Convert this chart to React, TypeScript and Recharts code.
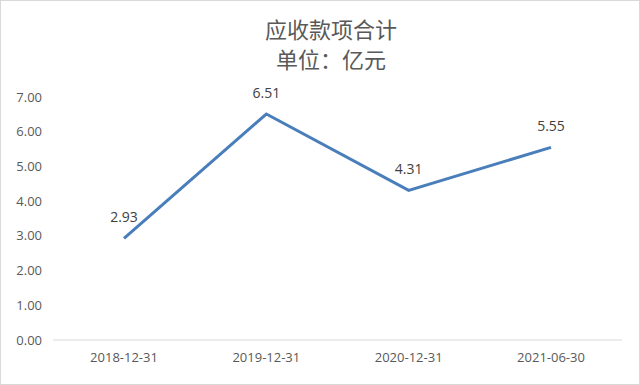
import React from 'react';
import { LineChart, Line, XAxis, YAxis, LabelList } from 'recharts';

// 期末日期
const periods = ['2018-12-31', '2019-12-31', '2020-12-31', '2021-06-30'];
// 应收款项合计（亿元）
const receivables = [2.93, 6.51, 4.31, 5.55];
// 纵轴刻度
const yTicks = [0, 1, 2, 3, 4, 5, 6, 7];

const data = periods.map((p, i) => ({ period: p, value: receivables[i] }));

const tickFont = { fontFamily: 'Open Sans, sans-serif', fontSize: 13, fill: '#595959' };

export default function App() {
  return (
    <div
      style={{
        position: 'fixed',
        left: 0,
        top: 0,
        width: 640,
        height: 385,
        boxSizing: 'border-box',
        border: '1px solid #d9d9d9',
        background: '#fff',
      }}
    >
      <div
        style={{
          position: 'absolute',
          left: 0,
          top: 12,
          width: 660,
          textAlign: 'center',
          fontFamily: '"Noto Sans CJK SC", sans-serif',
          fontSize: 22,
          lineHeight: '30px',
          color: '#595959',
        }}
      >
        <div>应收款项合计</div>
        <div>单位：亿元</div>
      </div>
      <LineChart
        width={638}
        height={383}
        data={data}
        margin={{ top: 96, right: 17, left: 0, bottom: 14 }}
      >
        <XAxis
          dataKey="period"
          tickLine={false}
          axisLine={{ stroke: '#d9d9d9' }}
          tick={tickFont}
          tickMargin={7}
          height={30}
          padding={{ left: 71, right: 71 }}
          interval={0}
        />
        <YAxis
          domain={[0, 7]}
          ticks={yTicks}
          interval={0}
          tickFormatter={(v: number) => v.toFixed(2)}
          axisLine={false}
          tickLine={false}
          tick={tickFont}
          tickMargin={5}
          width={52}
        />
        <Line
          type="linear"
          dataKey="value"
          stroke="#4a7ebb"
          strokeWidth={3}
          dot={false}
          isAnimationActive={false}
        >
          <LabelList
            dataKey="value"
            position="top"
            offset={16}
            formatter={(v: number) => v.toFixed(2)}
            style={{ fontFamily: 'Open Sans, sans-serif', fontSize: 14, fill: '#404040' }}
          />
        </Line>
      </LineChart>
    </div>
  );
}
